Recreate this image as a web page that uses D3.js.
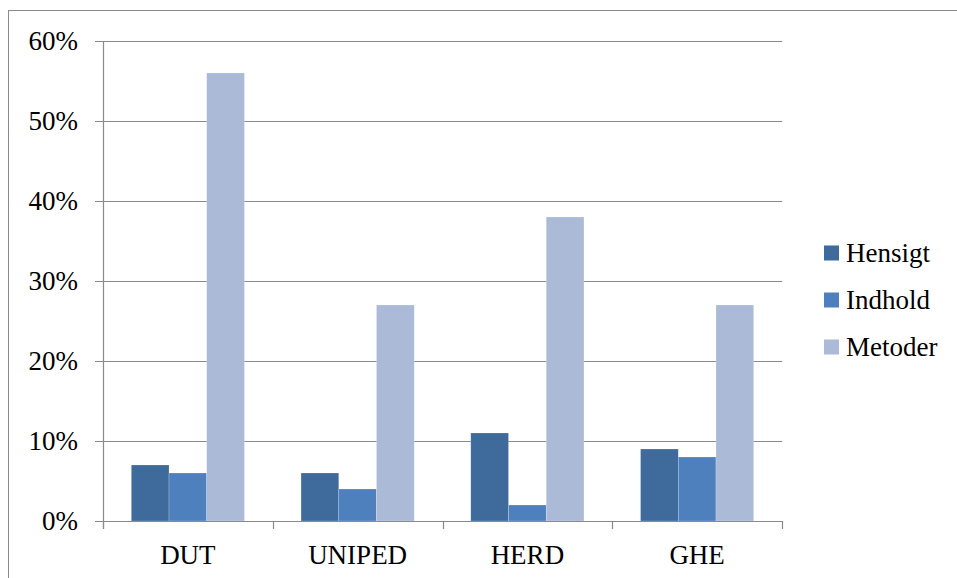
<!DOCTYPE html>
<html>
<head>
<meta charset="utf-8">
<script src="https://cdn.jsdelivr.net/npm/d3@7"></script>
<style>
  body { margin: 0; background: #fff; }
  text { font-family: "Liberation Serif", "DejaVu Serif", serif; fill: #000; }
</style>
</head>
<body>
<div id="chart"></div>
<script>
var categories = ["DUT", "UNIPED", "HERD", "GHE"];
var series = ["Hensigt", "Indhold", "Metoder"];
var hensigt = [0.07, 0.06, 0.11, 0.09];
var indhold = [0.06, 0.04, 0.02, 0.08];
var metoder = [0.56, 0.27, 0.38, 0.27];
var yTicks = [0, 0.1, 0.2, 0.3, 0.4, 0.5, 0.6];

var values = [hensigt, indhold, metoder];
var colors = ["#3e6a9c", "#4e80bd", "#aabad7"];

var width = 957, height = 578;
var plotLeft = 103, plotRight = 782, plotTop = 41, plotBottom = 521;

var svg = d3.select("#chart").append("svg")
    .attr("width", width).attr("height", height);

// outer frame
svg.append("rect")
    .attr("x", 8.5).attr("y", 10.5)
    .attr("width", width).attr("height", height)
    .attr("fill", "none").attr("stroke", "#8a8a8a").attr("stroke-width", 1);

var x0 = d3.scaleBand().domain(categories).range([plotLeft, plotRight]);
var x1 = d3.scaleBand().domain(series).range([0, x0.bandwidth()]).paddingOuter(0.75).paddingInner(0);
var y = d3.scaleLinear().domain([0, 0.6]).range([plotBottom, plotTop]);

// gridlines
svg.append("g").selectAll("line").data(yTicks).enter().append("line")
    .attr("x1", plotLeft - 8).attr("x2", plotRight)
    .attr("y1", function(d) { return Math.round(y(d)) + 0.5; })
    .attr("y2", function(d) { return Math.round(y(d)) + 0.5; })
    .attr("stroke", "#8a8a8a").attr("stroke-width", 1.2);

svg.append("g").selectAll("text").data(yTicks).enter().append("text")
    .attr("x", 78).attr("y", function(d) { return y(d); })
    .attr("dy", "0.34em")
    .attr("text-anchor", "end")
    .style("font-size", "27px")
    .text(function(d) { return Math.round(d * 100) + "%"; });

// bars
var groups = svg.append("g").selectAll("g").data(categories).enter().append("g")
    .attr("transform", function(d) { return "translate(" + x0(d) + ",0)"; });

groups.selectAll("rect").data(function(d, i) {
        return series.map(function(s, j) { return { s: s, v: values[j][i], j: j }; });
    }).enter().append("rect")
    .attr("x", function(d) { return x1(d.s); })
    .attr("width", x1.bandwidth())
    .attr("y", function(d) { return y(d.v); })
    .attr("height", function(d) { return plotBottom - y(d.v); })
    .attr("fill", function(d) { return colors[d.j]; })
    .attr("stroke", "#ffffff").attr("stroke-opacity", 0.35).attr("stroke-width", 0.6);

// axis lines and category ticks
svg.append("line")
    .attr("x1", plotLeft + 0.5).attr("x2", plotLeft + 0.5)
    .attr("y1", plotTop).attr("y2", plotBottom + 8)
    .attr("stroke", "#8a8a8a").attr("stroke-width", 1.2);

var bounds = categories.map(function(c) { return x0(c); }).concat([plotRight]);
svg.append("g").selectAll("line").data(bounds).enter().append("line")
    .attr("x1", function(d) { return Math.round(d) + 0.5; })
    .attr("x2", function(d) { return Math.round(d) + 0.5; })
    .attr("y1", plotBottom).attr("y2", plotBottom + 8)
    .attr("stroke", "#8a8a8a").attr("stroke-width", 1.2);

svg.append("line")
    .attr("x1", plotLeft - 8).attr("x2", plotRight)
    .attr("y1", plotBottom + 0.5).attr("y2", plotBottom + 0.5)
    .attr("stroke", "#8a8a8a").attr("stroke-width", 1.2);

svg.append("g").selectAll("text").data(categories).enter().append("text")
    .attr("x", function(d) { return x0(d) + x0.bandwidth() / 2; })
    .attr("y", 564)
    .attr("text-anchor", "middle")
    .style("font-size", "27px")
    .text(function(d) { return d; });

// legend
var legend = svg.append("g").selectAll("g").data(series).enter().append("g")
    .attr("transform", function(d, i) { return "translate(824," + (253 + i * 47) + ")"; });

legend.append("rect")
    .attr("x", 0).attr("y", -7.5).attr("width", 15).attr("height", 15)
    .attr("fill", function(d, i) { return colors[i]; });

legend.append("text")
    .attr("x", 22).attr("y", 0).attr("dy", "0.34em")
    .style("font-size", "27px")
    .text(function(d) { return d; });
</script>
</body>
</html>
